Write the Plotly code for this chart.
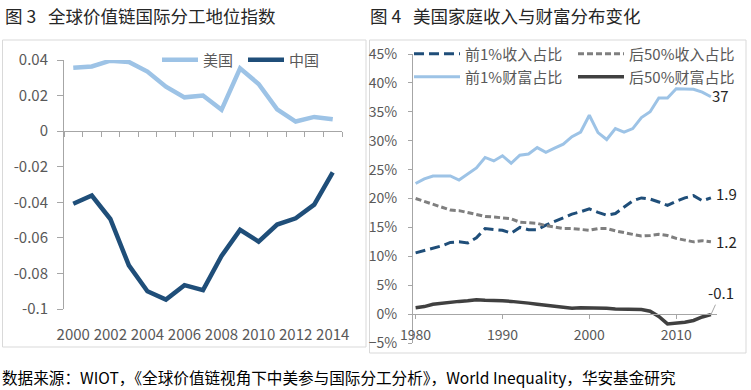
import plotly.graph_objects as go

# ---------------- data ----------------
years_left = ["2000", "2001", "2002", "2003", "2004", "2005", "2006", "2007",
              "2008", "2009", "2010", "2011", "2012", "2013", "2014"]
left_ticks = ["2000", "2002", "2004", "2006", "2008", "2010", "2012", "2014"]
us_index = [0.0357, 0.0364, 0.0396, 0.0389, 0.0335, 0.0250, 0.0190, 0.0200,
            0.0120, 0.0353, 0.0265, 0.0123, 0.0054, 0.0080, 0.0067]
cn_index = [-0.0408, -0.0362, -0.0494, -0.0755, -0.0900, -0.0947, -0.0866, -0.0894,
            -0.0702, -0.0555, -0.0621, -0.0525, -0.0490, -0.0413, -0.0232]

years_right = [1980, 1981, 1982, 1983, 1984, 1985, 1986, 1987, 1988, 1989,
               1990, 1991, 1992, 1993, 1994, 1995, 1996, 1997, 1998, 1999,
               2000, 2001, 2002, 2003, 2004, 2005, 2006, 2007, 2008, 2009,
               2010, 2011, 2012, 2013, 2014]
right_ticks = [1980, 1990, 2000, 2010]
top1_income = [10.6, 11.0, 11.4, 11.8, 12.4, 12.5, 12.3, 13.2, 14.8, 14.6,
               14.5, 14.0, 15.0, 14.6, 14.6, 15.4, 16.0, 16.6, 17.3, 17.7,
               18.2, 17.6, 17.1, 17.4, 18.5, 19.6, 20.1, 19.9, 19.4, 18.8,
               19.5, 20.1, 20.5, 19.6, 20.1]
bottom50_income = [20.0, 19.5, 19.0, 18.4, 18.0, 17.9, 17.6, 17.2, 16.9, 16.8,
                   16.7, 16.5, 15.9, 15.8, 15.7, 15.3, 15.0, 14.8, 14.8, 14.6,
                   14.5, 14.8, 14.8, 14.4, 14.1, 13.8, 13.5, 13.6, 13.8, 13.6,
                   13.1, 12.8, 12.5, 12.7, 12.5]
top1_wealth = [22.6, 23.4, 23.9, 23.9, 23.9, 23.2, 24.2, 25.3, 27.1, 26.5,
               27.4, 26.1, 27.5, 27.7, 28.8, 28.0, 28.7, 29.4, 30.7, 31.5,
               34.4, 31.4, 30.2, 32.1, 31.5, 32.1, 34.0, 35.0, 37.4, 37.4,
               39.0, 38.9, 38.9, 38.4, 37.6]
bottom50_wealth = [1.1, 1.3, 1.7, 1.9, 2.1, 2.2, 2.3, 2.5, 2.4, 2.4,
                   2.3, 2.2, 2.1, 1.9, 1.7, 1.5, 1.3, 1.1, 1.0, 1.1,
                   1.1, 1.1, 1.0, 0.9, 0.9, 0.9, 0.8, 0.5, -0.4, -1.7,
                   -1.6, -1.4, -1.1, -0.5, -0.1]
end_labels = ["1.9", "1.2", "37", "-0.1"]

# ---------------- layout helpers ----------------
W, H = 751, 390
FONT = "Noto Sans CJK SC"
GRAY_TXT = "#595959"
AXIS = "#A6A6A6"
NB = "\u00a0"


def px(x):
    return x / W


def py(y):
    return 1 - y / H


L_DOM_X = [px(64), px(342)]
L_DOM_Y = [py(309), py(60)]
L_RANGE = [-0.1, 0.04]
R_DOM_X = [px(413), px(717)]
R_DOM_Y = [py(343), py(54)]
R_RANGE = [-5, 45]


def zero_pos(dom, rng):
    return dom[0] + (0 - rng[0]) / (rng[1] - rng[0]) * (dom[1] - dom[0])


fig = go.Figure()

# left panel
fig.add_trace(go.Scatter(x=years_left, y=us_index, name="美国", mode="lines",
                         line=dict(color="#9DC3E6", width=4.5),
                         xaxis="x", yaxis="y", legend="legend"))
fig.add_trace(go.Scatter(x=years_left, y=cn_index, name="中国", mode="lines",
                         line=dict(color="#1F4E79", width=4.5),
                         xaxis="x", yaxis="y", legend="legend"))
fig.add_trace(go.Scatter(x=[None], y=[None], xaxis="x3", yaxis="y",
                         showlegend=False, hoverinfo="skip"))

# right panel
fig.add_trace(go.Scatter(x=years_right, y=top1_income, name="前1%收入占比", mode="lines",
                         line=dict(color="#1F4E79", width=3, dash="10px,5px"),
                         xaxis="x2", yaxis="y2", legend="legend2"))
fig.add_trace(go.Scatter(x=years_right, y=bottom50_income, name="后50%收入占比", mode="lines",
                         line=dict(color="#7F7F7F", width=3, dash="6px,3px"),
                         xaxis="x2", yaxis="y2", legend="legend2"))
fig.add_trace(go.Scatter(x=years_right, y=top1_wealth, name="前1%财富占比", mode="lines",
                         line=dict(color="#9DC3E6", width=3),
                         xaxis="x2", yaxis="y2", legend="legend3"))
fig.add_trace(go.Scatter(x=years_right, y=bottom50_wealth, name="后50%财富占比", mode="lines",
                         line=dict(color="#404040", width=3.5),
                         xaxis="x2", yaxis="y2", legend="legend3"))

tickfont_l = dict(family=FONT, size=15, color=GRAY_TXT)
tickfont_r = dict(family=FONT, size=14, color=GRAY_TXT)
legfont = dict(family=FONT, size=15, color=GRAY_TXT)

fig.update_layout(
    width=W, height=H,
    margin=dict(l=0, r=0, t=0, b=0, autoexpand=False),
    paper_bgcolor="white", plot_bgcolor="rgba(0,0,0,0)",
    font=dict(family=FONT, color=GRAY_TXT),
    xaxis=dict(domain=L_DOM_X, type="category", anchor="y", range=[-0.5, 14.5],
               showline=False, ticks="", tickmode="array", tickvals=left_ticks,
               tickfont=tickfont_l, showgrid=False, zeroline=False,
               ticklabelstandoff=15),
    xaxis3=dict(overlaying="x", anchor="free", position=zero_pos(L_DOM_Y, L_RANGE),
                type="linear", range=[-0.5, 14.5], tickmode="linear", tick0=-0.5, dtick=1,
                ticks="outside", ticklen=5, tickcolor=AXIS, showline=True,
                linecolor=AXIS, linewidth=1, showticklabels=False,
                showgrid=False, zeroline=False),
    yaxis=dict(domain=L_DOM_Y, anchor="x", range=L_RANGE,
               tickvals=[-0.1, -0.08, -0.06, -0.04, -0.02, 0, 0.02, 0.04],
               ticktext=["-0.1", "-0.08", "-0.06", "-0.04", "-0.02", "0", "0.02", "0.04"],
               ticks="outside", ticklen=6, tickcolor=AXIS, showline=True,
               linecolor=AXIS, linewidth=1, showgrid=False, zeroline=False,
               tickfont=tickfont_l, ticklabelstandoff=6),
    xaxis2=dict(domain=R_DOM_X, anchor="free", position=zero_pos(R_DOM_Y, R_RANGE),
                range=[1979.7, 2014.7], tickmode="array", tickvals=right_ticks,
                ticks="outside", ticklen=4, tickcolor=AXIS, showline=True,
                linecolor=AXIS, linewidth=1, showgrid=False, zeroline=False,
                tickfont=tickfont_r, ticklabelstandoff=4),
    yaxis2=dict(domain=R_DOM_Y, anchor="x2", range=R_RANGE, tickmode="linear",
                tick0=-5, dtick=5, ticksuffix="%", ticks="outside", ticklen=4,
                tickcolor=AXIS, showline=True, linecolor=AXIS, linewidth=1,
                showgrid=False, zeroline=False, tickfont=tickfont_r,
                ticklabelstandoff=8),
    legend=dict(orientation="h", x=px(157), y=py(60), xanchor="left", yanchor="middle",
                font=legfont, bgcolor="rgba(0,0,0,0)", entrywidth=35, itemwidth=36),
    legend2=dict(orientation="h", x=px(409), y=py(54), xanchor="left", yanchor="middle",
                 font=legfont, bgcolor="rgba(0,0,0,0)", entrywidth=103, itemwidth=46),
    legend3=dict(orientation="h", x=px(409), y=py(77), xanchor="left", yanchor="middle",
                 font=legfont, bgcolor="rgba(0,0,0,0)", entrywidth=103, itemwidth=46),
    showlegend=True,
)

# panel frames
fig.add_shape(type="rect", xref="paper", yref="paper", x0=px(2.5), x1=px(366),
              y0=py(347), y1=py(40), line=dict(color="#D9D9D9", width=1), layer="below")
fig.add_shape(type="rect", xref="paper", yref="paper", x0=px(369.5), x1=px(746),
              y0=py(353), y1=py(40), line=dict(color="#D9D9D9", width=1), layer="below")

# titles
fig.add_annotation(text="图" + NB + "3" + NB * 3 + "全球价值链国际分工地位指数", xref="paper", yref="paper",
                   x=px(3), y=py(16), xanchor="left", yanchor="middle", showarrow=False,
                   font=dict(family=FONT, size=17.5, color="#262626"))
fig.add_annotation(text="图" + NB + "4" + NB * 3 + "美国家庭收入与财富分布变化", xref="paper", yref="paper",
                   x=px(368), y=py(16), xanchor="left", yanchor="middle", showarrow=False,
                   font=dict(family=FONT, size=17.5, color="#262626"))
# footer
fig.add_annotation(text="数据来源：WIOT，《全球价值链视角下中美参与国际分工分析》，World Inequality，华安基金研究",
                   xref="paper", yref="paper", x=px(0), y=py(377), xanchor="left",
                   yanchor="middle", showarrow=False,
                   font=dict(family=FONT, size=15.6, color="#000000"))

# end labels on right chart
lab_font = dict(family=FONT, size=15, color="#262626")
fig.add_annotation(text=end_labels[0], x=years_right[-1], y=top1_income[-1], xref="x2", yref="y2",
                   xanchor="left", yanchor="middle", xshift=3, yshift=4, showarrow=False, font=lab_font)
fig.add_annotation(text=end_labels[1], x=years_right[-1], y=bottom50_income[-1], xref="x2", yref="y2",
                   xanchor="left", yanchor="middle", xshift=3, yshift=0, showarrow=False, font=lab_font)
fig.add_annotation(text=end_labels[2], x=years_right[-1], y=top1_wealth[-1], xref="x2", yref="y2",
                   xanchor="left", yanchor="middle", xshift=-1, yshift=1, showarrow=False, font=lab_font)
fig.add_annotation(text=end_labels[3], x=years_right[-1], y=bottom50_wealth[-1], xref="x2", yref="y2",
                   showarrow=True, arrowhead=0, arrowwidth=1, arrowcolor="#A6A6A6",
                   ax=10, ay=-22, standoff=0, font=lab_font)

fig.write_html("out.html", config={"displayModeBar": False},
               post_script="document.body.style.margin='0';")
